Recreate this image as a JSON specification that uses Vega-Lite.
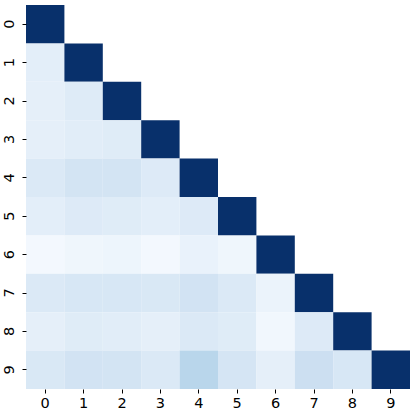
{
  "$schema": "https://vega.github.io/schema/vega-lite/v6.json",
  "width": 384,
  "height": 384,
  "autosize": "none",
  "padding": {"left": 26, "top": 5, "right": 5, "bottom": 26},
  "background": "white",
  "config": {"view": {"stroke": null}},
  "data": {"values": [
    {"row": 0, "col": 0, "v": 1.0},
    {"row": 1, "col": 0, "v": 0.10}, {"row": 1, "col": 1, "v": 1.0},
    {"row": 2, "col": 0, "v": 0.09}, {"row": 2, "col": 1, "v": 0.125}, {"row": 2, "col": 2, "v": 1.0},
    {"row": 3, "col": 0, "v": 0.09}, {"row": 3, "col": 1, "v": 0.11}, {"row": 3, "col": 2, "v": 0.12}, {"row": 3, "col": 3, "v": 1.0},
    {"row": 4, "col": 0, "v": 0.14}, {"row": 4, "col": 1, "v": 0.18}, {"row": 4, "col": 2, "v": 0.18}, {"row": 4, "col": 3, "v": 0.13}, {"row": 4, "col": 4, "v": 1.0},
    {"row": 5, "col": 0, "v": 0.10}, {"row": 5, "col": 1, "v": 0.13}, {"row": 5, "col": 2, "v": 0.12}, {"row": 5, "col": 3, "v": 0.10}, {"row": 5, "col": 4, "v": 0.13}, {"row": 5, "col": 5, "v": 1.0},
    {"row": 6, "col": 0, "v": 0.02}, {"row": 6, "col": 1, "v": 0.04}, {"row": 6, "col": 2, "v": 0.05}, {"row": 6, "col": 3, "v": 0.02}, {"row": 6, "col": 4, "v": 0.07}, {"row": 6, "col": 5, "v": 0.04}, {"row": 6, "col": 6, "v": 1.0},
    {"row": 7, "col": 0, "v": 0.14}, {"row": 7, "col": 1, "v": 0.16}, {"row": 7, "col": 2, "v": 0.16}, {"row": 7, "col": 3, "v": 0.15}, {"row": 7, "col": 4, "v": 0.19}, {"row": 7, "col": 5, "v": 0.14}, {"row": 7, "col": 6, "v": 0.06}, {"row": 7, "col": 7, "v": 1.0},
    {"row": 8, "col": 0, "v": 0.09}, {"row": 8, "col": 1, "v": 0.12}, {"row": 8, "col": 2, "v": 0.11}, {"row": 8, "col": 3, "v": 0.09}, {"row": 8, "col": 4, "v": 0.14}, {"row": 8, "col": 5, "v": 0.12}, {"row": 8, "col": 6, "v": 0.03}, {"row": 8, "col": 7, "v": 0.13}, {"row": 8, "col": 8, "v": 1.0},
    {"row": 9, "col": 0, "v": 0.15}, {"row": 9, "col": 1, "v": 0.19}, {"row": 9, "col": 2, "v": 0.18}, {"row": 9, "col": 3, "v": 0.14}, {"row": 9, "col": 4, "v": 0.29}, {"row": 9, "col": 5, "v": 0.17}, {"row": 9, "col": 6, "v": 0.09}, {"row": 9, "col": 7, "v": 0.22}, {"row": 9, "col": 8, "v": 0.16}, {"row": 9, "col": 9, "v": 1.0}
  ]},
  "mark": {"type": "rect"},
  "encoding": {
    "x": {
      "field": "col", "type": "ordinal",
      "scale": {"domain": [0,1,2,3,4,5,6,7,8,9], "paddingInner": 0, "paddingOuter": 0},
      "axis": {"title": null, "labelAngle": 0, "domain": false, "ticks": true, "tickSize": 4, "tickColor": "#000", "tickWidth": 1, "labelFont": "DejaVu Sans", "labelFontSize": 14.5, "labelColor": "#000", "labelPadding": 3}
    },
    "y": {
      "field": "row", "type": "ordinal",
      "scale": {"domain": [0,1,2,3,4,5,6,7,8,9], "paddingInner": 0, "paddingOuter": 0},
      "axis": {"title": null, "labelAngle": -90, "labelAlign": "center", "labelBaseline": "bottom", "domain": false, "ticks": true, "tickSize": 4, "tickColor": "#000", "tickWidth": 1, "labelFont": "DejaVu Sans", "labelFontSize": 14.5, "labelColor": "#000", "labelPadding": 6}
    },
    "color": {
      "field": "v", "type": "quantitative",
      "scale": {"domain": [0, 0.125, 0.25, 0.375, 0.5, 0.625, 0.75, 0.875, 1], "range": ["#f7fbff","#deebf7","#c6dbef","#9ecae1","#6baed6","#4292c6","#2171b5","#08519c","#08306b"], "interpolate": "rgb"},
      "legend": null
    }
  }
}
